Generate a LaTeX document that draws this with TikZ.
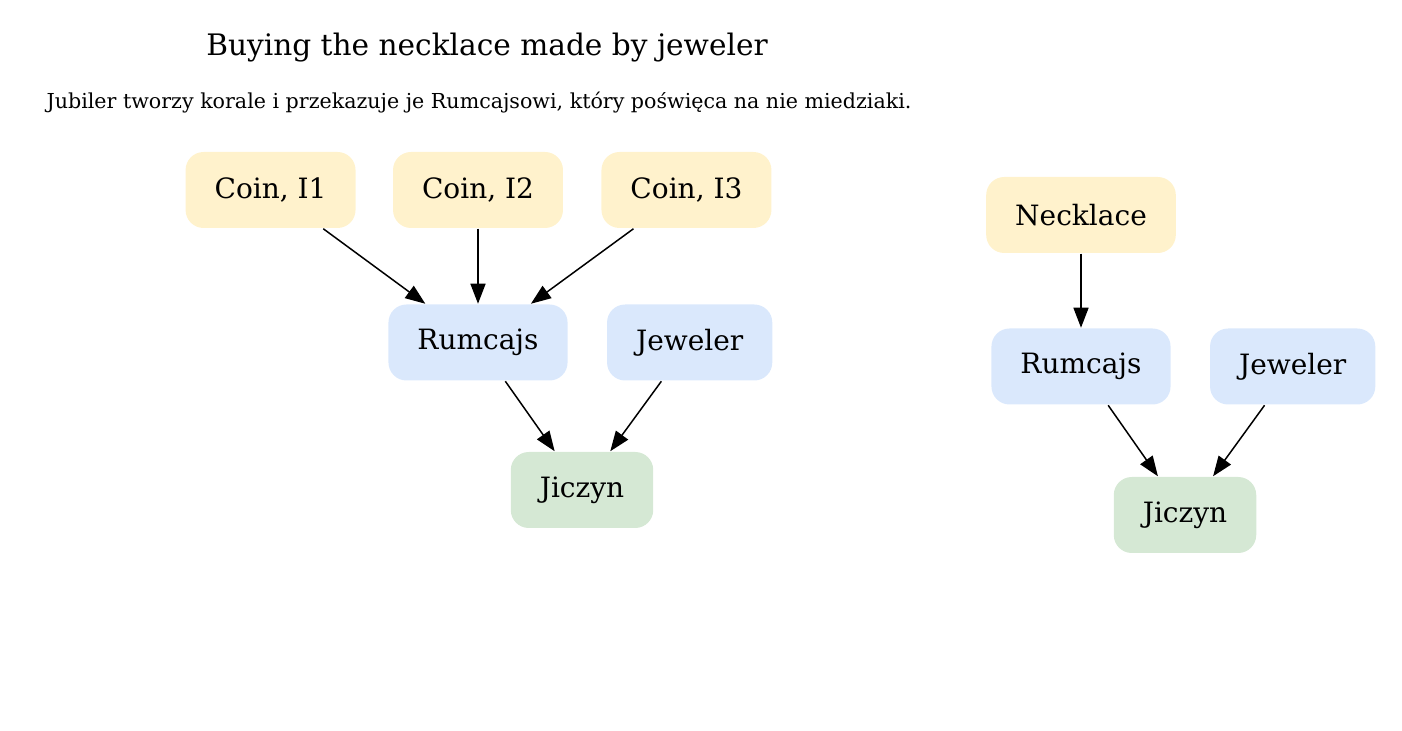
\documentclass[tikz,border=0pt]{standalone}
\usepackage{fontspec}
\setmainfont{DejaVu Serif}
\usetikzlibrary{positioning,arrows.meta}

\definecolor{inputfill}{HTML}{FFF2CC}
\definecolor{actorfill}{HTML}{DAE8FC}
\definecolor{targetfill}{HTML}{D5E8D4}

\tikzset{
  box/.style={rounded corners=9pt, minimum height=38pt, inner xsep=14.5pt, font=\fontsize{14}{16}\selectfont},
  input/.style={box, fill=inputfill},
  actor/.style={box, fill=actorfill},
  target/.style={box, fill=targetfill},
}

\begin{document}
\begin{tikzpicture}[x=0.5pt, y=-0.5pt, >={Triangle[length=10pt, width=7.5pt]}, line width=0.75pt]
  \useasboundingbox (0,0) rectangle (1402,731);

  \node [font=\fontsize{14.8}{17}\selectfont] (title) at (487,48) {Buying the necklace made by jeweler};
  \node [font=\fontsize{10.3}{12}\selectfont] (subtitle) at (479,103) {Jubiler tworzy korale i przekazuje je Rumcajsowi, który poświęca na nie miedziaki.};

  % left: paying with coins
  \node [input] (coin2) at (478,190) {Coin, I2};
  \node [input, left=18pt of coin2] (coin1) {Coin, I1};
  \node [input, right=18.5pt of coin2] (coin3) {Coin, I3};
  \node [actor, below=37.5pt of coin2] (rumcajs) {Rumcajs};
  \node [actor, right=19pt of rumcajs] (jeweler) {Jeweler};
  \node [target] (jiczyn) at (582,490) {Jiczyn};

  \draw [->] (coin1) -- (rumcajs);
  \draw [->] (coin2) -- (rumcajs);
  \draw [->] (coin3) -- (rumcajs);
  \draw [->] (rumcajs) -- (jiczyn);
  \draw [->] (jeweler) -- (jiczyn);

  % right: the necklace
  \node [input] (necklace) at (1081,215) {Necklace};
  \node [actor, below=37pt of necklace] (rumcajs2) {Rumcajs};
  \node [actor, right=19pt of rumcajs2] (jeweler2) {Jeweler};
  \node [target] (jiczyn2) at (1185,515) {Jiczyn};

  \draw [->] (necklace) -- (rumcajs2);
  \draw [->] (rumcajs2) -- (jiczyn2);
  \draw [->] (jeweler2) -- (jiczyn2);
\end{tikzpicture}
\end{document}
